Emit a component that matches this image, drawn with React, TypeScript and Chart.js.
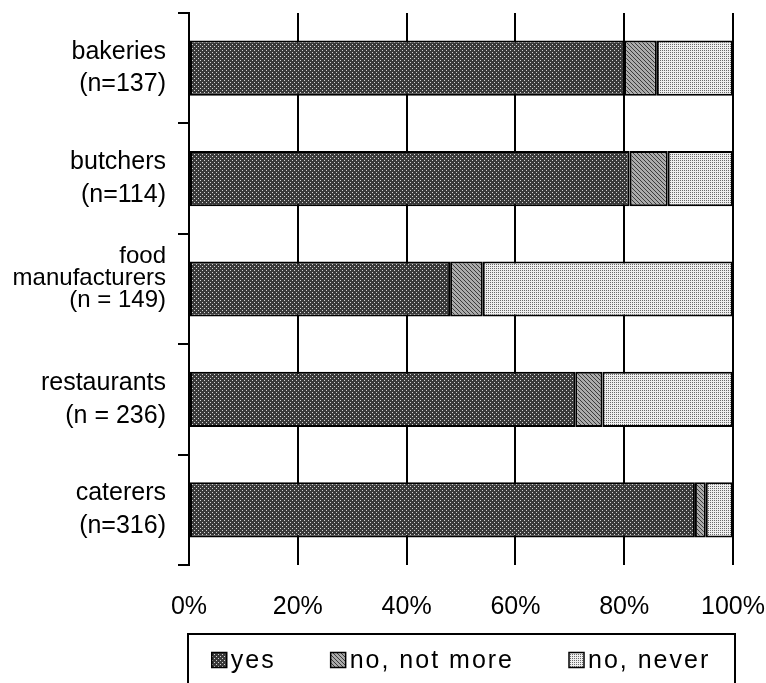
import React, { useEffect, useRef } from 'react';
import { Chart, registerables } from 'chart.js';

Chart.register(...registerables);

const FONT = '"Liberation Sans", Arial, Helvetica, sans-serif';

const categories: string[][] = [
  ['bakeries', '(n=137)'],
  ['butchers', '(n=114)'],
  ['food', 'manufacturers', '(n = 149)', ''],
  ['restaurants', '(n = 236)'],
  ['caterers', '(n=316)'],
];
const seriesNames = ['yes', 'no, not more', 'no, never'];
const yesValues = [80, 81, 48, 71, 93];
const notMoreValues = [6, 7, 6, 5, 2];
const neverValues = [14, 12, 46, 24, 5];
const xTickValues = [0, 20, 40, 60, 80, 100];

function makePattern(bg: string, fg: string, dots: [number, number][], size = 4): CanvasPattern | string {
  const c = document.createElement('canvas');
  c.width = size;
  c.height = size;
  const g = c.getContext('2d');
  if (!g) return bg;
  g.fillStyle = bg;
  g.fillRect(0, 0, size, size);
  g.fillStyle = fg;
  dots.forEach(([x, y]) => g.fillRect(x, y, 1, 1));
  return g.createPattern(c, 'repeat') || bg;
}

const legendPlugin = {
  id: 'boxedLegend',
  afterDraw(chart: any) {
    const { ctx, chartArea } = chart;
    const datasets = chart.data.datasets;
    ctx.save();
    // frame
    ctx.strokeStyle = '#000';
    ctx.lineWidth = 2;
    ctx.strokeRect(chartArea.left - 1, chartArea.bottom + 69, chartArea.right - chartArea.left + 3, 80);
    // items
    ctx.font = `25px ${FONT}`;
    try { (ctx as any).letterSpacing = '2px'; } catch (e) { /* ignore */ }
    ctx.textBaseline = 'middle';
    ctx.textAlign = 'left';
    const box = 15;
    const gapText = 4;
    const gapItems = 55;
    const widths = datasets.map((ds: any) => box + gapText + ctx.measureText(ds.label).width);
    const total = widths.reduce((a: number, b: number) => a + b, 0) + gapItems * (datasets.length - 1);
    let x = (chartArea.left + chartArea.right) / 2 - total / 2;
    const y = chartArea.bottom + 95;
    datasets.forEach((ds: any, i: number) => {
      ctx.fillStyle = ds.backgroundColor;
      ctx.fillRect(x, y - box / 2, box, box);
      ctx.strokeStyle = '#000';
      ctx.lineWidth = 1.5;
      ctx.strokeRect(x, y - box / 2, box, box);
      ctx.fillStyle = '#000';
      ctx.fillText(ds.label, x + box + gapText, y + 1);
      x += widths[i] + gapItems;
    });
    ctx.restore();
  },
};

export default function App() {
  const canvasRef = useRef<HTMLCanvasElement | null>(null);

  useEffect(() => {
    if (!canvasRef.current) return;
    const darkPat = makePattern('#3a3a3a', '#d4d4d4', [[0, 0], [2, 2]]);
    const midPat = makePattern('#ababab', '#3c3c3c', [[0, 0], [1, 1], [2, 2], [3, 3]]);
    const lightPat = makePattern('#eeeeee', '#6a6a6a', [[0, 0], [2, 2], [0, 2], [2, 0]]);
    const fills = [darkPat, midPat, lightPat];
    const values = [yesValues, notMoreValues, neverValues];

    const chart = new Chart(canvasRef.current, {
      type: 'bar',
      data: {
        labels: categories,
        datasets: seriesNames.map((name, i) => ({
          label: name,
          data: values[i],
          backgroundColor: fills[i] as any,
          borderColor: '#000',
          borderWidth: 2,
          borderSkipped: false,
          categoryPercentage: 1,
          barPercentage: 0.5,
        })),
      },
      options: {
        indexAxis: 'y',
        animation: false,
        responsive: true,
        maintainAspectRatio: false,
        layout: { padding: { top: 13, right: 33, left: 0, bottom: 0 } },
        plugins: {
          legend: { display: false },
          tooltip: { enabled: false },
        },
        scales: {
          x: {
            stacked: true,
            min: 0,
            max: 100,
            border: { display: false },
            grid: { color: '#000', lineWidth: 2, drawTicks: false },
            afterBuildTicks: (scale: any) => {
              scale.ticks = xTickValues.map((v) => ({ value: v }));
            },
            ticks: {
              padding: 27,
              maxRotation: 0,
              autoSkip: false,
              color: '#000',
              font: { family: FONT, size: 25 },
              callback: (v: any) => `${v}%`,
            },
            afterFit: (scale: any) => {
              scale.height = 118;
              scale.paddingLeft = 0;
              scale.paddingRight = 0;
              scale.paddingTop = 0;
              scale.paddingBottom = 0;
            },
          },
          y: {
            stacked: true,
            border: { display: true, color: '#000', width: 2 },
            grid: { offset: true, drawOnChartArea: false, color: '#000', lineWidth: 2, tickLength: 11 },
            ticks: {
              padding: 12,
              color: '#000',
              autoSkip: false,
              font: (ctx: any) =>
                ctx.index === 2
                  ? { family: FONT, size: 24, lineHeight: 0.92 }
                  : { family: FONT, size: 25, lineHeight: 1.3 },
            },
            afterFit: (scale: any) => {
              scale.width = 189;
              scale.paddingLeft = 0;
              scale.paddingRight = 0;
              scale.paddingTop = 0;
              scale.paddingBottom = 0;
            },
          },
        },
      },
      plugins: [legendPlugin],
    });
    return () => chart.destroy();
  }, []);

  return (
    <div style={{ position: 'absolute', left: 0, top: 0, width: 766, height: 683, background: '#fff' }}>
      <canvas ref={canvasRef} />
    </div>
  );
}
